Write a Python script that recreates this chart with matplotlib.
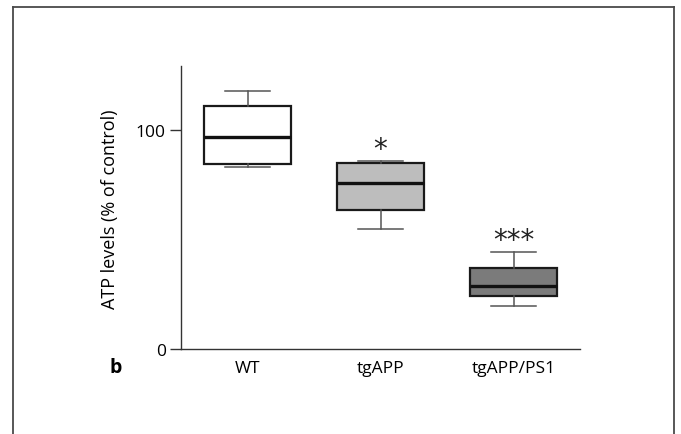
import matplotlib.pyplot as plt

plt.rcParams['font.family'] = ['Open Sans', 'DejaVu Sans']

groups = ['WT', 'tgAPP', 'tgAPP/PS1']
whis_lo = [82.9, 54.5, 19.5]
q1 = [84.2, 63.2, 24.1]
med = [96.5, 75.5, 28.8]
q3 = [110.6, 85.0, 36.8]
whis_hi = [117.5, 85.5, 44.0]
box_colors = ['#ffffff', '#bdbdbd', '#7b7b7b']
stars = ['', '*', '***']

stats = []
for i, g in enumerate(groups):
    stats.append(dict(label=g, whislo=whis_lo[i], q1=q1[i], med=med[i],
                      q3=q3[i], whishi=whis_hi[i], fliers=[]))

fig = plt.figure(figsize=(6.81, 4.35), dpi=100)
ax = fig.add_axes([0.2658, 0.1954, 0.5859, 0.6506])

bp = ax.bxp(stats, positions=[1, 2, 3], widths=0.66, patch_artist=True,
            showfliers=False,
            boxprops=dict(edgecolor='#1a1a1a', linewidth=1.6),
            medianprops=dict(color='#111111', linewidth=2.4),
            whiskerprops=dict(color='#555555', linewidth=1.1),
            capprops=dict(color='#555555', linewidth=1.1),
            capwidths=0.34)
for patch, c in zip(bp['boxes'], box_colors):
    patch.set_facecolor(c)

for i, s in enumerate(stars):
    if s:
        ax.text(i + 1, whis_hi[i] - 0.5, s, ha='center', va='bottom',
                fontsize=20, color='#222222', family='DejaVu Sans')

ax.set_xlim(0.5, 3.5)
ax.set_ylim(0, 129)
ax.set_yticks([0, 100])
ax.set_xticks([1, 2, 3])
ax.set_xticklabels(groups)
ax.tick_params(axis='y', length=8, width=1, color='#333333', labelsize=12.5, pad=3)
ax.tick_params(axis='x', length=0, labelsize=12.5, pad=8)
for side in ['top', 'right']:
    ax.spines[side].set_visible(False)
for side in ['left', 'bottom']:
    ax.spines[side].set_color('#333333')
    ax.spines[side].set_linewidth(1)
ax.set_ylabel('ATP levels (% of control)', fontsize=13)
ax.yaxis.set_label_coords(-0.155, 0.498)

fig.text(116 / 681, 1 - 368 / 435, 'b', fontsize=14, fontweight='bold',
         ha='center', va='center')

# panel frame (left, top, right only)
fig.add_artist(plt.Line2D([12.5 / 681, 12.5 / 681], [0, 1 - 7.5 / 435],
                          transform=fig.transFigure, color='#4a4a4a', lw=1.3))
fig.add_artist(plt.Line2D([12.5 / 681, 674 / 681], [1 - 7.5 / 435, 1 - 7.5 / 435],
                          transform=fig.transFigure, color='#4a4a4a', lw=1.3))
fig.add_artist(plt.Line2D([674 / 681, 674 / 681], [0, 1 - 7.5 / 435],
                          transform=fig.transFigure, color='#4a4a4a', lw=1.3))

fig.savefig('out.png', dpi=100)
